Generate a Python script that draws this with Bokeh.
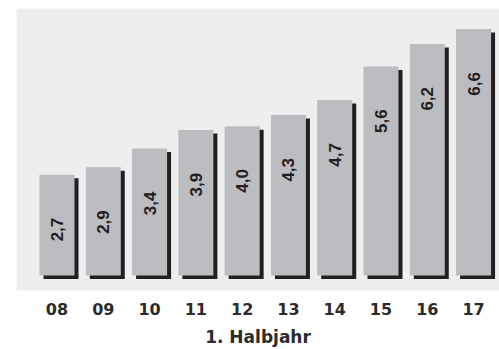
import math
from bokeh.plotting import figure
from bokeh.models import ColumnDataSource, Range1d, FixedTicker
from bokeh.transform import dodge
from bokeh.core.properties import value
from bokeh.embed import file_html
from bokeh.resources import INLINE

# Half-year values (1. Halbjahr), 2008 to 2017
years = ["08", "09", "10", "11", "12", "13", "14", "15", "16", "17"]
values = [2.7, 2.9, 3.4, 3.9, 4.0, 4.3, 4.7, 5.6, 6.2, 6.6]
value_labels = ["2,7", "2,9", "3,4", "3,9", "4,0", "4,3", "4,7", "5,6", "6,2", "6,6"]

PANEL = "#eeeeee"
BAR = "#bcbdc0"
SHADOW = "#231f20"
TEXT = "#2b2b2b"

W, H = 499, 349
Y0, Y1 = -0.40, 7.15
X0, X1 = -0.875, 9.56
frame_h = 282
px_per_unit = frame_h / (Y1 - Y0)
px_per_slot = 483 / (X1 - X0)

xs = list(range(len(years)))
shadow_dx = 4 / px_per_slot
shadow_dy = 3.5 / px_per_unit
label_gap = 43 / px_per_unit

src = ColumnDataSource(data=dict(
    x=xs,
    top=values,
    label=value_labels,
    shadow_top=[v - shadow_dy for v in values],
    label_y=[v - label_gap for v in values],
))

p = figure(width=W, height=H, output_backend="svg", toolbar_location=None,
           x_range=Range1d(X0, X1), y_range=Range1d(Y0, Y1),
           min_border_left=16, min_border_top=8, min_border_right=0,
           min_border_bottom=59)

p.background_fill_color = PANEL
p.border_fill_color = "white"
p.outline_line_color = None
p.grid.visible = False
p.yaxis.visible = False

# drop shadow under each bar
p.vbar(x=dodge("x", shadow_dx), top="shadow_top", bottom=-shadow_dy, width=0.756,
       source=src, fill_color=SHADOW, line_color=None)
p.vbar(x="x", top="top", bottom=0, width=0.756, source=src,
       fill_color=BAR, line_color=None)

p.text(x="x", y="label_y", text="label", source=src, angle=math.pi / 2,
       text_align="right", text_baseline="middle",
       text_font=value("Liberation Sans"), text_font_style="bold",
       text_font_size="17px", text_color=SHADOW)

ax = p.xaxis[0]
ax.ticker = FixedTicker(ticks=xs)
ax.major_label_overrides = {i: y for i, y in zip(xs, years)}
ax.axis_line_color = None
ax.major_tick_line_color = None
ax.minor_tick_line_color = None
ax.major_tick_out = 0
ax.major_tick_in = 0
ax.major_label_standoff = 12
ax.major_label_text_font = "DejaVu Sans"
ax.major_label_text_font_style = "bold"
ax.major_label_text_font_size = "16px"
ax.major_label_text_color = TEXT
ax.axis_label = "1. Halbjahr"
ax.axis_label_standoff = 9
ax.axis_label_text_font = "DejaVu Sans"
ax.axis_label_text_font_style = "bold"
ax.axis_label_text_font_size = "17px"
ax.axis_label_text_color = TEXT

open("out.html", "w").write(file_html(p, INLINE))
